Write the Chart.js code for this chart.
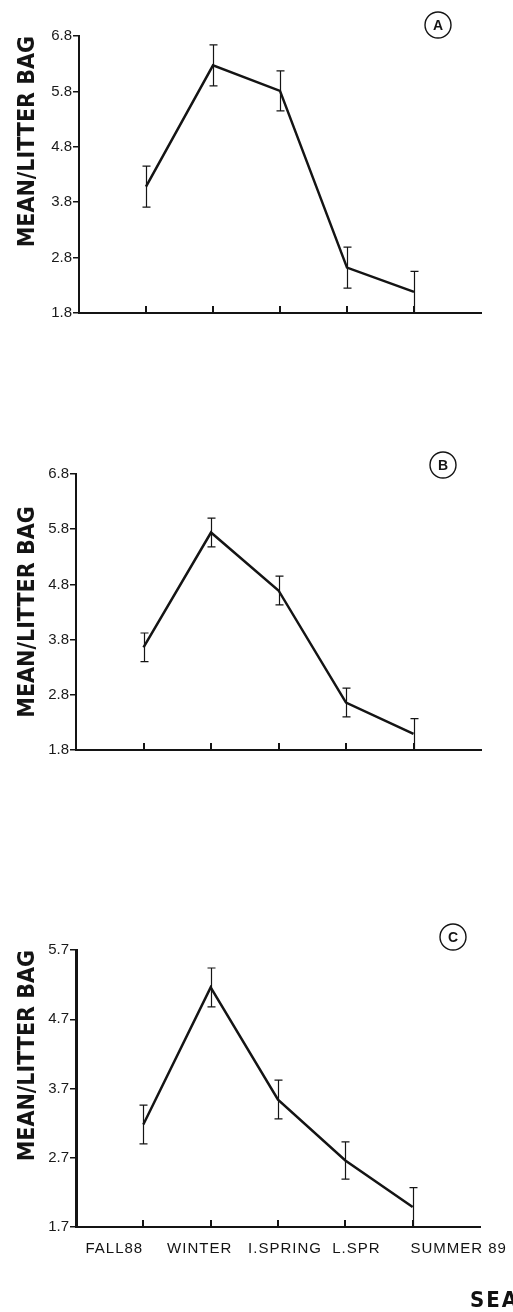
<!DOCTYPE html>
<html>
<head>
<meta charset="utf-8">
<script src="https://cdn.jsdelivr.net/npm/chart.js@4.4.1/dist/chart.umd.min.js"></script>
<style>
  html, body { margin: 0; padding: 0; background: #fff; overflow: hidden; }
  body { width: 513px; height: 1312px; position: relative; }
  .panel { position: absolute; left: 0; width: 513px; }
  #season {
    position: absolute; left: 470px; top: 1289px;
    font: bold 22px 'DejaVu Sans Condensed', 'DejaVu Sans', sans-serif;
    line-height: 22px; letter-spacing: 2px; white-space: nowrap; color: #111;
  }
</style>
</head>
<body>
<div class="panel" style="top:0;height:330px"><canvas id="chartA"></canvas></div>
<div class="panel" style="top:440px;height:330px"><canvas id="chartB"></canvas></div>
<div class="panel" style="top:900px;height:412px"><canvas id="chartC"></canvas></div>
<div id="season">SEASON</div>
<script>
// seasons on the x axis (placed at 1..5 on a 0..6 axis)
const seasons = ['FALL88', 'WINTER', 'I.SPRING', 'L.SPR', 'SUMMER 89'];

// panel A
const meanA = [4.08, 6.27, 5.81, 2.62, 2.18];
const errA = [0.37, 0.37, 0.36, 0.37, 0.37];
// panel B
const meanB = [3.66, 5.74, 4.69, 2.66, 2.09];
const errB = [0.26, 0.26, 0.26, 0.26, 0.28];
// panel C
const meanC = [3.18, 5.16, 3.54, 2.66, 1.99];
const errC = [0.28, 0.28, 0.28, 0.27, 0.28];

const yTicksAB = [1.8, 2.8, 3.8, 4.8, 5.8, 6.8];
const yTicksC = [1.7, 2.7, 3.7, 4.7, 5.7];

// horizontal nudges of the season labels under panel C (px, from the figure)
const labelShift = [-29, -11, 7, 11, 46];

const ink = '#141414';

// vertical error bars with small caps
const errorBars = {
    id: 'errorBars',
    afterDatasetsDraw(chart) {
        const { ctx, chartArea } = chart;
        const xs = chart.scales.x, ys = chart.scales.y;
        const ds = chart.data.datasets[0];
        ctx.save();
        ctx.strokeStyle = ink;
        ctx.lineWidth = 1.2;
        ds.data.forEach((p, i) => {
            const px = Math.round(xs.getPixelForValue(p.x)) + 0.5;
            const top = ys.getPixelForValue(p.y + ds.errors[i]);
            const bot = Math.min(ys.getPixelForValue(p.y - ds.errors[i]), chartArea.bottom);
            ctx.beginPath();
            ctx.moveTo(px, top); ctx.lineTo(px, bot);
            ctx.moveTo(px - 4, top); ctx.lineTo(px + 4, top);
            if (bot < chartArea.bottom - 1) {
                ctx.moveTo(px - 4, bot); ctx.lineTo(px + 4, bot);
            }
            ctx.stroke();
        });
        ctx.restore();
    }
};

// circled panel letter, inner tick marks on x axis, season labels
const panelDeco = {
    id: 'panelDeco',
    afterDraw(chart, args, opts) {
        const { ctx, chartArea } = chart;
        const xs = chart.scales.x;
        ctx.save();
        ctx.strokeStyle = ink;
        ctx.lineWidth = 2;
        for (let i = 1; i <= seasons.length; i++) {
            const px = Math.round(xs.getPixelForValue(i));
            ctx.beginPath();
            ctx.moveTo(px, chartArea.bottom);
            ctx.lineTo(px, chartArea.bottom - 7);
            ctx.stroke();
        }

        ctx.lineWidth = 1.4;
        ctx.beginPath();
        ctx.arc(opts.cx, opts.cy, 13, 0, Math.PI * 2);
        ctx.stroke();
        ctx.fillStyle = ink;
        ctx.font = "bold 14px 'Liberation Sans', Arial, sans-serif";
        ctx.textAlign = 'center';
        ctx.textBaseline = 'middle';
        ctx.fillText(opts.letter, opts.cx, opts.cy + 1);

        if (opts.showLabels) {
            ctx.font = "15px 'Liberation Sans', Arial, sans-serif";
            ctx.letterSpacing = '1px';
            ctx.textBaseline = 'alphabetic';
            seasons.forEach((s, i) => {
                const px = xs.getPixelForValue(i + 1) + labelShift[i];
                ctx.fillText(s, px, chartArea.bottom + 26);
            });
        }
        ctx.restore();
    }
};

function makePanel(id, mean, err, yTicks, p) {
    const ctx = document.getElementById(id);
    return new Chart(ctx, {
        type: 'line',
        data: {
            datasets: [{
                data: mean.map((v, i) => ({ x: i + 1, y: v })),
                errors: err,
                borderColor: ink,
                borderWidth: 2.5,
                pointRadius: 0,
                tension: 0,
                fill: false
            }]
        },
        options: {
            responsive: true,
            maintainAspectRatio: false,
            animation: false,
            events: [],
            layout: { padding: { top: p.top, right: p.right, bottom: 0, left: 0 } },
            plugins: {
                legend: { display: false },
                tooltip: { enabled: false },
                panelDeco: { letter: p.letter, cx: p.cx, cy: p.cy, showLabels: p.showLabels }
            },
            scales: {
                x: {
                    type: 'linear',
                    min: 0,
                    max: 6,
                    afterBuildTicks: s => { s.ticks = seasons.map((_, i) => ({ value: i + 1 })); },
                    afterFit: s => { s.height = p.xHeight; },
                    ticks: { display: false },
                    grid: { display: false },
                    border: { color: ink, width: 2 }
                },
                y: {
                    min: yTicks[0],
                    max: yTicks[yTicks.length - 1],
                    afterBuildTicks: s => { s.ticks = yTicks.map(v => ({ value: v })); },
                    afterFit: s => { s.width = p.yWidth; },
                    ticks: {
                        color: '#1a1a1a',
                        padding: 1,
                        font: { family: "'Liberation Sans', Arial, sans-serif", size: 15 },
                        callback: v => v.toFixed(1)
                    },
                    grid: { drawOnChartArea: false, color: ink, lineWidth: 1.5, tickLength: 6 },
                    border: { color: ink, width: p.yBorder },
                    title: {
                        display: true,
                        text: 'MEAN/LITTER BAG',
                        color: ink,
                        align: p.titleAlign,
                        padding: { top: 14, bottom: 0 },
                        font: { family: "'DejaVu Sans Condensed', 'DejaVu Sans', sans-serif", size: 23, weight: 'bold' }
                    }
                }
            }
        },
        plugins: [errorBars, panelDeco]
    });
}

makePanel('chartA', meanA, errA, yTicksAB, {
    letter: 'A', cx: 438, cy: 25, top: 36, right: 32, xHeight: 17, yWidth: 79,
    yBorder: 2, titleAlign: 'end', showLabels: false
});
makePanel('chartB', meanB, errB, yTicksAB, {
    letter: 'B', cx: 443, cy: 25, top: 34, right: 32, xHeight: 20, yWidth: 76,
    yBorder: 2, titleAlign: 'center', showLabels: false
});
makePanel('chartC', meanC, errC, yTicksC, {
    letter: 'C', cx: 453, cy: 37, top: 50, right: 33, xHeight: 85, yWidth: 76,
    yBorder: 3, titleAlign: 'end', showLabels: true
});
</script>
</body>
</html>
